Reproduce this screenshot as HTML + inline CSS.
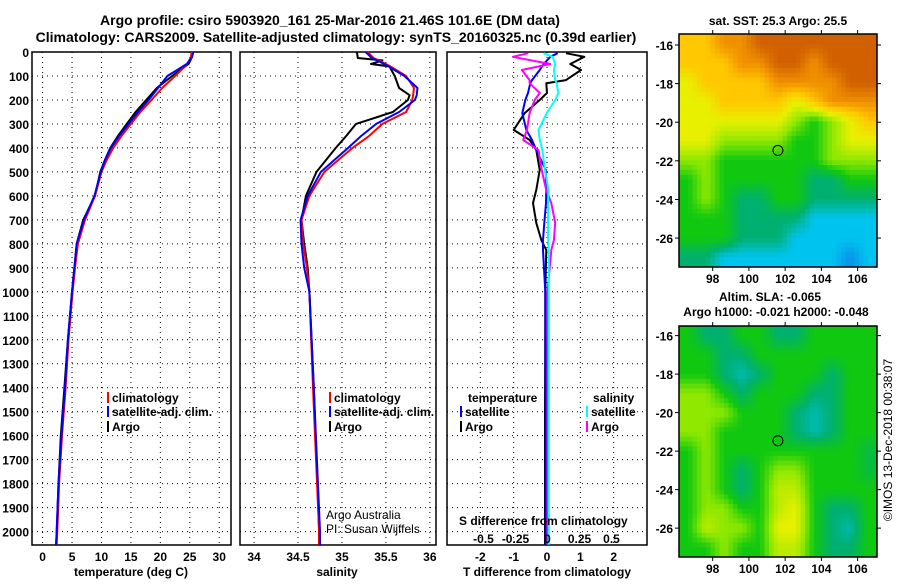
<!DOCTYPE html>
<html><head><meta charset="utf-8"><style>
body{margin:0;background:#fff;width:900px;height:580px;overflow:hidden;font-family:"Liberation Sans",sans-serif}
svg text{font-family:"Liberation Sans",sans-serif}
</style></head><body>
<svg id="s" width="900" height="580" xmlns="http://www.w3.org/2000/svg">
<text x="330" y="25" text-anchor="middle" font-size="14" font-weight="bold">Argo profile: csiro 5903920_161 25-Mar-2016 21.46S 101.6E (DM data)</text>
<text x="336" y="42" text-anchor="middle" font-size="14" font-weight="bold">Climatology: CARS2009. Satellite-adjusted climatology: synTS_20160325.nc (0.39d earlier)</text>
<text x="778" y="25" text-anchor="middle" font-size="12" font-weight="bold">sat. SST: 25.3 Argo: 25.5</text>
<text x="770" y="301" text-anchor="middle" font-size="12" font-weight="bold">Altim. SLA: -0.065</text>
<text x="776" y="316" text-anchor="middle" font-size="12" font-weight="bold">Argo h1000: -0.021 h2000: -0.048</text>
<text transform="translate(892,440) rotate(-90)" text-anchor="middle" font-size="12">©IMOS 13-Dec-2018 00:38:07</text>
<g id="g"></g>
</svg>
<script>
// ---------- data ----------
const tempDepth=[0,20,50,100,150,200,250,300,350,400,450,500,600,700,800,900,1000,1200,1400,1600,1800,2000,2055];
const tempArgo=[25.5,25.4,24.8,22.0,19.4,17.6,15.8,14.3,12.8,11.5,10.6,9.8,8.9,6.9,5.8,5.4,5.0,4.3,3.7,3.1,2.7,2.4,2.3];
const tempClim=[25.3,25.2,24.6,22.5,20.3,18.5,16.6,15.0,13.4,12.0,10.9,10.0,8.9,7.2,6.0,5.5,5.1,4.4,3.9,3.3,2.8,2.5,2.4];
const tempSat=[25.6,25.4,24.5,21.2,19.6,18.0,16.2,14.6,13.0,11.6,10.6,9.9,8.8,7.0,5.8,5.4,5.0,4.3,3.8,3.2,2.7,2.4,2.3];
const salDepth=[0,25,35,50,60,100,150,180,200,250,300,350,400,500,600,700,800,900,1000,1400,2000,2055];
const salArgo=[35.17,35.18,35.46,35.33,35.54,35.60,35.65,35.77,35.75,35.58,35.16,35.05,34.93,34.71,34.59,34.54,34.57,34.61,34.63,34.68,34.74,34.74];
const salClim=[35.29,35.36,35.42,35.50,35.55,35.73,35.82,35.81,35.80,35.73,35.46,35.31,35.12,34.80,34.63,34.54,34.56,34.60,34.63,34.67,34.74,34.74];
const salSat=[35.27,35.34,35.40,35.48,35.53,35.71,35.86,35.85,35.83,35.65,35.39,35.22,35.07,34.76,34.61,34.53,34.54,34.57,34.63,34.68,34.75,34.75];
const dDepth=[5,20,50,75,117,130,171,200,255,325,367,409,492,575,630,713,784,826,1000,1500,2000,2055];
const dTArgo=[0.57,1.12,0.7,1.02,0.57,-0.02,0,-0.22,-0.67,-1.0,-0.52,-0.32,-0.22,-0.32,-0.42,-0.32,-0.17,-0.02,-0.05,-0.06,-0.06,-0.06];
const dTSat=[0.32,0.1,-0.1,-0.22,-0.45,-0.5,-0.57,-0.65,-0.74,-0.62,-0.45,-0.32,-0.04,-0.02,-0.03,-0.08,-0.12,-0.12,-0.05,-0.04,-0.04,-0.04];
const dSArgo=[-0.15,-0.27,0.02,-0.2,-0.14,-0.14,-0.06,-0.1,-0.14,-0.16,-0.19,-0.07,-0.045,-0.01,0.03,0.06,0.05,0.03,0.0,0.0,0.0,0.0];
const dSSat=[-0.03,0.04,0.06,0.05,0.06,0.07,0.085,0.06,-0.006,-0.07,-0.06,-0.04,-0.02,0.007,0.005,0.005,0.005,0.01,0.01,0.01,0.01,0.01];
const depthTicks=[0,100,200,300,400,500,600,700,800,900,1000,1100,1200,1300,1400,1500,1600,1700,1800,1900,2000];
const tTicks=[0,5,10,15,20,25,30];
const sTicks=[34,34.5,35,35.5,36];
const dtTicks=[-2,-1,0,1,2];
const dsTicks=[-0.5,-0.25,0,0.25,0.5];
const dsTickLabels=['-0.5','-0.25','0','0.25','0.5'];
const lonTicks=[98,100,102,104,106];
const latTicks=[-16,-18,-20,-22,-24,-26];
const sstGrid=[
[6,6,7,7,8,8,8,8,8,8,8],[6,6,6,7,7,8,8,7,8,8,8],[5,6,6,6,6,7,7,7,7,8,8],[5,5,6,6,6,6,5,6,7,7,7],
[5,5,5,5,5,5,4,3,4,5,6],[5,5,4,4,4,4,3,3,4,5,5],[4,4,3,3,3,3,3,3,4,4,4],[3,4,3,3,3,3,3,2,2,3,3],
[3,4,3,2,2,3,3,2,2,2,2],[3,3,3,2,2,2,2,1,1,1,1],[3,3,3,2,2,2,1,1,1,1,1],[2,2,1,1,1,1,1,1,1,0.5,1]];
const slaGrid=[
[3,2,2,3,3,2,2,3,3,3,3],[3,3,2,2,3,3,3,3,3,3,3],[3,3,2,1.5,2,3,3,3,2,3,3],[4,4,3,2,3,3,3,2,2,3,3],
[4,4,4,3,3,3,2,1.5,2,3,3],[4,4,3,3,3,3,2,1.5,2,3,3],[3,4,3,3,3,3,3,3,3,3,2.5],[3,4,3,2,3,4,4,3,3,3,2.5],
[3,4,3,2,3,4.5,4.5,3,3,3,3],[3,4,4,3,3,4.5,5,3,2,2,3],[3,4.5,4,4,3,5,5,3,2,1.5,3],[3,3,4,3,3,4.5,4.5,3,2,2,3]];
// ---------- helpers ----------
const NS='http://www.w3.org/2000/svg', G=document.getElementById('g');
function mk(tag,a,parent){const e=document.createElementNS(NS,tag);for(const k in a)e.setAttribute(k,a[k]);(parent||G).appendChild(e);return e;}
const Y=d=>52+d*0.2398;
const panels=[
 {x0:32,x1:231,min:-1.8,max:32,ticks:tTicks,name:'temperature-panel',title:'temperature (deg C)',tx:131},
 {x0:240,x1:436,min:33.84,max:36.07,ticks:sTicks,name:'salinity-panel',title:'salinity',tx:337},
 {x0:447,x1:647,min:-3,max:3,ticks:dtTicks,name:'difference-panel',title:'T difference from climatology',tx:547}];
panels.forEach(p=>{p.X=v=>p.x0+(v-p.min)/(p.max-p.min)*(p.x1-p.x0);});
panels.forEach((p,i)=>{
 const g=mk('g',{});
 depthTicks.forEach(d=>{const l=mk('line',{x1:p.x0,x2:p.x1,y1:Y(d),y2:Y(d),stroke:'#000','stroke-dasharray':'1 4'},g);
  });
 p.ticks.forEach((t,j)=>{const x=p.X(t);
  const l=mk('line',{x1:x,x2:x,y1:52,y2:545,stroke:'#000','stroke-dasharray':'1 4'},g);
  
  const tx=mk('text',{x:x,y:561,'text-anchor':'middle','font-size':12,'font-weight':'bold'},g);tx.textContent=String(t);
  });
 const r=mk('rect',{x:p.x0,y:52,width:p.x1-p.x0,height:493,fill:'none',stroke:'#000','stroke-width':1.5},g);
 
 const at=mk('text',{x:p.tx,y:576,'text-anchor':'middle','font-size':12,'font-weight':'bold'},g);at.textContent=p.title;
 
});
depthTicks.forEach(d=>{const t=mk('text',{x:29,y:Y(d)+5,'text-anchor':'end','font-size':12,'font-weight':'bold'});t.textContent=String(d);
 });
function line(X,xs,ds,color,name){const pts=xs.map((v,i)=>X(v).toFixed(1)+','+Y(ds[i]).toFixed(1)).join(' ');
 const e=mk('polyline',{points:pts,fill:'none',stroke:color,'stroke-width':2,'stroke-linejoin':'round'});
 }
const P0=panels[0],P1=panels[1],P2=panels[2];
line(P0.X,tempArgo,tempDepth,'#000','temp-argo-line');
line(P0.X,tempClim,tempDepth,'#f00','temp-climatology-line');
line(P0.X,tempSat,tempDepth,'#00f','temp-satellite-line');
line(P1.X,salArgo,salDepth,'#000','sal-argo-line');
line(P1.X,salClim,salDepth,'#f00','sal-climatology-line');
line(P1.X,salSat,salDepth,'#00f','sal-satellite-line');
const XS=v=>547.5+128*v;
line(P2.X,dTArgo,dDepth,'#000','dt-argo-line');
line(P2.X,dTSat,dDepth,'#00f','dt-satellite-line');
line(XS,dSArgo,dDepth,'#f0f','ds-argo-line');
line(XS,dSSat,dDepth,'#0ff','ds-satellite-line');
dsTicks.forEach((t,i)=>{const tx=mk('text',{x:XS(t),y:543,'text-anchor':'middle','font-size':12,'font-weight':'bold'});tx.textContent=dsTickLabels[i];
 });
function txt(x,y,s,name,bold){const t=mk('text',{x:x,y:y,'font-size':12,'font-weight':bold===false?'normal':'bold'});t.textContent=s;
 return t;}
function leg(x,y,color,s,name){const b=mk('rect',{x:x,y:y-10,width:2,height:11,fill:color});txt(x+5,y,s,name);}
[[107,'p1'],[329,'p2']].forEach(([x,k])=>{leg(x,402,'#f00','climatology',k+'-legend-climatology');leg(x,416,'#00f','satellite-adj. clim.',k+'-legend-satellite');leg(x,431,'#000','Argo',k+'-legend-argo');});
txt(468,402,'temperature','legend-temperature-heading');txt(593,402,'salinity','legend-salinity-heading');
leg(460,416,'#00f','satellite','legend-dt-satellite');leg(460,431,'#000','Argo','legend-dt-argo');
leg(586,416,'#0ff','satellite','legend-ds-satellite');leg(586,431,'#f0f','Argo','legend-ds-argo');
txt(459,525,'S difference from climatology','s-diff-axis-title');
txt(326,519,'Argo Australia','credit-argo-australia',false);txt(326,533,'PI: Susan Wijffels','credit-pi',false);
// ---------- maps ----------
const cmap=[[16,96,224],[0,196,240],[0,176,112],[16,200,16],[144,232,0],[232,240,0],[255,200,0],[240,144,0],[208,96,0]];
function col(v){const i=Math.min(Math.floor(v),cmap.length-2),t=v-i;const a=cmap[i],b=cmap[i+1];
 return 'rgb('+a.map((c,k)=>Math.round(c+(b[k]-c)*t)).join(',')+')';}
function sample(grid,fy,fx){const R=grid.length,C=grid[0].length;
 fy=Math.max(0,Math.min(R-1,fy));fx=Math.max(0,Math.min(C-1,fx));
 const r0=Math.floor(fy),c0=Math.floor(fx),r1=Math.min(R-1,r0+1),c1=Math.min(C-1,c0+1),ty=fy-r0,tx=fx-c0;
 return (grid[r0][c0]*(1-tx)+grid[r0][c1]*tx)*(1-ty)+(grid[r1][c0]*(1-tx)+grid[r1][c1]*tx)*ty;}
function map(y0,y1,lat0,grid,cf,name){
 const x0=679,x1=877,lonMin=96.14,lonMax=107.07,latTop=lat0,latBot=-27.5;
 const LX=v=>x0+(v-lonMin)/(lonMax-lonMin)*(x1-x0), LY=v=>y0+(latTop-v)/(latTop-latBot)*(y1-y0);
 const g=mk('g',{});
 const rows=grid.length,cols=grid[0].length,S=4,cw=(x1-x0)/cols/S,ch=(y1-y0)/rows/S;
 for(let r=0;r<rows*S;r++)for(let c=0;c<cols*S;c++){
  const v=sample(grid,(r+0.5)/S-0.5,(c+0.5)/S-0.5);
  const e=mk('rect',{x:(x0+c*cw).toFixed(2),y:(y0+r*ch).toFixed(2),width:(cw+0.5).toFixed(2),height:(ch+0.5).toFixed(2),fill:cf(v)},g);
  }
 const f=mk('rect',{x:x0,y:y0,width:x1-x0,height:y1-y0,fill:'none',stroke:'#000','stroke-width':1.5},g);
 
 lonTicks.forEach(t=>{const x=LX(t);mk('line',{x1:x,x2:x,y1:y0-4,y2:y0,stroke:'#000'},g);mk('line',{x1:x,x2:x,y1:y1,y2:y1+4,stroke:'#000'},g);
  const tx=mk('text',{x:x,y:y1+16,'text-anchor':'middle','font-size':12,'font-weight':'bold'},g);tx.textContent=String(t);
  });
 latTicks.forEach(t=>{const y=LY(t);mk('line',{x1:x0-4,x2:x0,y1:y,y2:y,stroke:'#000'},g);mk('line',{x1:x1,x2:x1+4,y1:y,y2:y,stroke:'#000'},g);
  const tx=mk('text',{x:x0-6,y:y+5,'text-anchor':'end','font-size':12,'font-weight':'bold'},g);tx.textContent=String(t);
  });
 const c=mk('circle',{cx:LX(101.6),cy:LY(-21.46),r:5,fill:'none',stroke:'#000','stroke-width':1},g);
 
}
map(34,267,-15.43,sstGrid,col,'sst-map');
map(326,557,-15.5,slaGrid,col,'sla-map');
</script>
</body></html>
